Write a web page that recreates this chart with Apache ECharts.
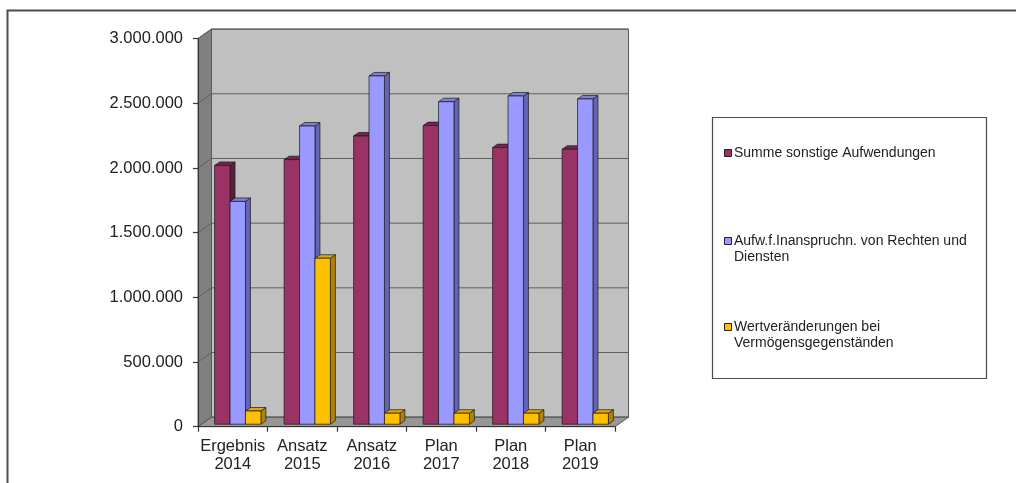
<!DOCTYPE html>
<html>
<head>
<meta charset="utf-8">
<script src="https://cdn.jsdelivr.net/npm/echarts/dist/echarts.min.js"></script>
<style>
  html, body { margin: 0; padding: 0; background: #ffffff; }
  #chart { width: 1016px; height: 483px; }
</style>
</head>
<body>
<div id="chart"></div>
<script>
// Categories (fiscal years) and the three expense series
const categories = ['Ergebnis\n2014', 'Ansatz\n2015', 'Ansatz\n2016', 'Plan\n2017', 'Plan\n2018', 'Plan\n2019'];
const seriesNames = [
  'Summe sonstige Aufwendungen',
  'Aufw.f.Inanspruchn. von Rechten und\nDiensten',
  'Wertveränderungen bei\nVermögensgegenständen'
];
const summeAufwendungen = [2000000, 2045000, 2228000, 2308000, 2138000, 2125000];
const inanspruchnahme   = [1722000, 2305000, 2692000, 2493000, 2537000, 2514000];
const wertveraenderungen = [102000, 1283000, 85000, 85000, 85000, 85000];
const yTicks = [0, 500000, 1000000, 1500000, 2000000, 2500000, 3000000];

// 3D look: depth of the plot box, depth of each column and its offset into the box
const WALL_DX = 13.5, WALL_DY = -9.5;
const BAR_DX = 5, BAR_DY = -3.5;
const BAR_SHIFT_X = 5, BAR_SHIFT_Y = -2.5;
const BAR_FRACTION = 0.222;

const palette = [
  { front: '#993366', side: '#5e1d3f', top: '#72264d' },
  { front: '#9999ff', side: '#6464b4', top: '#7f7fd8' },
  { front: '#ffc000', side: '#b08400', top: '#e0a800' }
];
const seriesData = [summeAufwendungen, inanspruchnahme, wertveraenderungen];

const FONT = '"Liberation Sans", Arial, sans-serif';

function deNumber(v) {
  return String(v).replace(/\B(?=(\d{3})+(?!\d))/g, '.');
}

function renderWalls(params, api) {
  const cs = params.coordSys;
  const L = cs.x, R = cs.x + cs.width, T = cs.y, B = cs.y + cs.height;
  const children = [];
  children.push({
    type: 'rect',
    shape: { x: L + WALL_DX, y: T + WALL_DY, width: cs.width, height: cs.height },
    style: { fill: '#c0c0c0', stroke: '#5a5a5a', lineWidth: 1 }
  });
  children.push({
    type: 'polygon',
    shape: { points: [[L, T], [L + WALL_DX, T + WALL_DY], [L + WALL_DX, B + WALL_DY], [L, B]] },
    style: { fill: '#808080', stroke: '#5a5a5a', lineWidth: 1 }
  });
  children.push({
    type: 'polygon',
    shape: { points: [[L, B], [R, B], [R + WALL_DX, B + WALL_DY], [L + WALL_DX, B + WALL_DY]] },
    style: { fill: '#979797', stroke: '#5a5a5a', lineWidth: 1 }
  });
  yTicks.forEach(function (v) {
    const y = api.coord([0, v])[1];
    children.push({
      type: 'polyline',
      shape: { points: [[L, y], [L + WALL_DX, y + WALL_DY], [R + WALL_DX, y + WALL_DY]] },
      style: { stroke: '#5e5e5e', lineWidth: 1, fill: null }
    });
  });
  return { type: 'group', children: children };
}

function makeBarRenderer(k) {
  const c = palette[k];
  return function (params, api) {
    const i = api.value(0);
    const v = api.value(1);
    const base = api.coord([i, 0]);
    const topPt = api.coord([i, v]);
    const band = api.size([1, 0])[0];
    const w = band * BAR_FRACTION;
    const x0 = base[0] - 1.5 * w + k * w + BAR_SHIFT_X;
    const x1 = x0 + w;
    const yb = base[1] + BAR_SHIFT_Y;
    const yt = topPt[1] + BAR_SHIFT_Y;
    const edge = { stroke: '#1a1a1a', lineWidth: 0.7 };
    return {
      type: 'group',
      children: [
        { type: 'polygon', shape: { points: [[x1, yt], [x1 + BAR_DX, yt + BAR_DY], [x1 + BAR_DX, yb + BAR_DY], [x1, yb]] },
          style: Object.assign({ fill: c.side }, edge) },
        { type: 'polygon', shape: { points: [[x0, yt], [x0 + BAR_DX, yt + BAR_DY], [x1 + BAR_DX, yt + BAR_DY], [x1, yt]] },
          style: Object.assign({ fill: c.top }, edge) },
        { type: 'rect', shape: { x: x0, y: yt, width: w, height: yb - yt },
          style: Object.assign({ fill: c.front }, edge) }
      ]
    };
  };
}

const series = [{
  type: 'custom',
  name: 'walls',
  renderItem: renderWalls,
  data: [[0, 0]],
  clip: false,
  silent: true,
  z: 1
}];
seriesData.forEach(function (arr, k) {
  series.push({
    type: 'custom',
    name: seriesNames[k],
    renderItem: makeBarRenderer(k),
    data: arr.map(function (v, i) { return [i, v]; }),
    clip: false,
    silent: true,
    z: 3
  });
});

// Legend drawn as a framed box on the right
const legendItemsY = [153, 249, 335];
const legendChildren = [{
  type: 'rect',
  shape: { x: 712.5, y: 117.5, width: 274, height: 261 },
  style: { fill: '#ffffff', stroke: '#4a4a4a', lineWidth: 1.2 }
}];
seriesNames.forEach(function (name, k) {
  const lines = name.split('\n').length;
  const yc = legendItemsY[k];
  const firstLineY = yc - (lines - 1) * 8;
  legendChildren.push({
    type: 'rect',
    shape: { x: 724.5, y: firstLineY - 3.5, width: 7, height: 7 },
    style: { fill: palette[k].front, stroke: '#222', lineWidth: 1 }
  });
  legendChildren.push({
    type: 'text',
    x: 734, y: firstLineY - 8,
    style: { text: name, font: '14px ' + FONT, fill: '#222', lineHeight: 16, verticalAlign: 'top' }
  });
});

const chart = echarts.init(document.getElementById('chart'), null, { renderer: 'canvas' });
chart.setOption({
  animation: false,
  backgroundColor: '#ffffff',
  grid: { left: 198, right: 401, top: 38.6, bottom: 56.3, outerBoundsMode: 'none', containLabel: false },
  xAxis: {
    type: 'category',
    data: categories,
    boundaryGap: true,
    axisLine: { show: true, lineStyle: { color: '#333', width: 1 } },
    axisTick: { show: true, length: 5, lineStyle: { color: '#333', width: 1.2 } },
    axisLabel: { color: '#222', fontFamily: FONT, fontSize: 16.5, lineHeight: 18, margin: 11, interval: 0 },
    splitLine: { show: false },
    z: 5
  },
  yAxis: {
    type: 'value',
    min: 0, max: 3000000, interval: 500000,
    axisLine: { show: true, lineStyle: { color: '#333', width: 1 } },
    axisTick: { show: true, length: 5, lineStyle: { color: '#333', width: 1.2 } },
    axisLabel: { color: '#222', fontFamily: FONT, fontSize: 16.5, margin: 15, formatter: deNumber },
    splitLine: { show: false },
    z: 5
  },
  graphic: [
    {
      type: 'rect', z: -10, silent: true,
      shape: { x: 7.5, y: 10.5, width: 1200, height: 700 },
      style: { fill: null, stroke: '#4d4d4d', lineWidth: 2 }
    },
    { type: 'group', children: legendChildren, z: 10 }
  ],
  series: series
});
</script>
</body>
</html>
